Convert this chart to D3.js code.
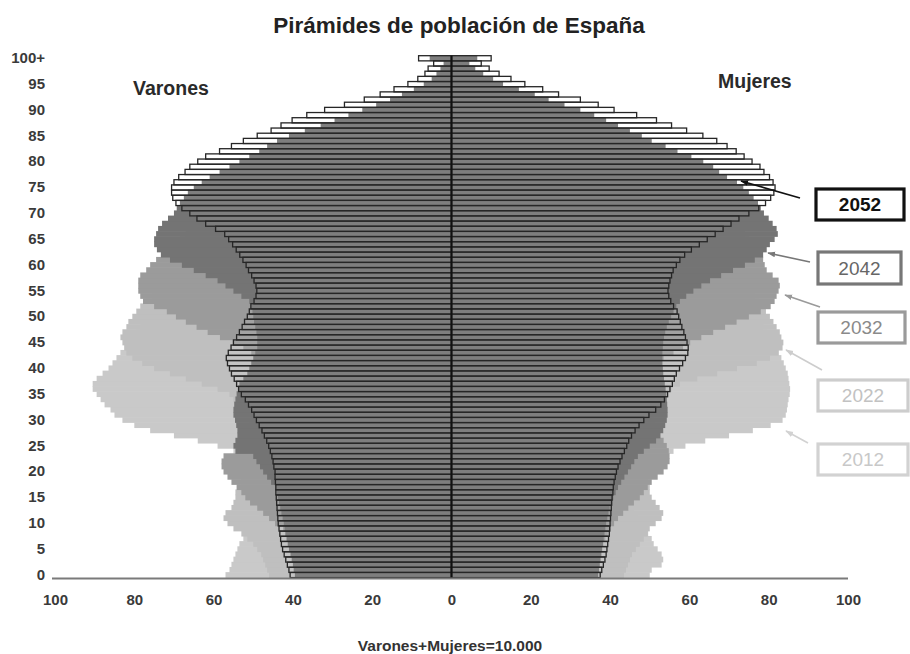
<!DOCTYPE html>
<html>
<head>
<meta charset="utf-8">
<script src="https://cdn.jsdelivr.net/npm/d3@7"></script>
<style>
  body { margin: 0; background: #fff; }
  svg { display: block; font-family: "Liberation Sans", Arial, Helvetica, sans-serif; }
</style>
</head>
<body>
<svg id="chart" width="910" height="654"></svg>
<script>
// Single-year ages, 0 … 100+ (the last class is open)
const ages = d3.range(0, 101);
const ageTicks = [0, 5, 10, 15, 20, 25, 30, 35, 40, 45, 50, 55, 60, 65, 70, 75, 80, 85, 90, 95, 100];
const ageTickLabels = ["0", "5", "10", "15", "20", "25", "30", "35", "40", "45", "50", "55", "60", "65", "70", "75", "80", "85", "90", "95", "100+"];
const xTicksLeft = [100, 80, 60, 40, 20, 0];
const xTicksRight = [20, 40, 60, 80, 100];
const years = ["2012", "2022", "2032", "2042", "2052"];

// Population per 10,000 inhabitants (Varones + Mujeres = 10.000), by age
const varones2012 = [
  57, 56, 55.5, 55, 54.5, 54, 53.5, 52.5, 51.5, 50.5,
  49.5, 48.5, 47.5, 47, 46.5, 46.5, 47, 47.5, 48.5, 49.5,
  50.5, 52, 53.5, 54.5, 55, 59, 64, 70, 76, 80,
  83, 85, 86, 87.5, 88.5, 89.5, 90.5, 90.5, 89.5, 88,
  86.5, 85.5, 84.5, 83.5, 82.5, 81.5, 80.5, 79.5, 78.5, 77,
  75.5, 74, 72, 70, 68, 66, 64.5, 63, 61.5, 60.5,
  59.5, 58.5, 57.5, 56.5, 55, 53, 51, 48.5, 45.5, 42,
  38.5, 39, 39.5, 38, 36.5, 35, 34, 32.5, 30.5, 28,
  25.5, 23, 21, 19, 17, 14.5, 12.5, 10.5, 8.5, 7,
  5.5, 4.2, 3.2, 2.4, 1.7, 1.2, 0.9, 0.6, 0.4, 0.3,
  0.4
];
const varones2022 = [
  46, 46.5, 47, 47.5, 48, 49, 50, 51.5, 53, 55,
  56.5, 57.5, 57, 55.5, 55, 54.5, 54.5, 54, 53, 52,
  51, 50, 49.5, 49, 49, 49.5, 50, 50.5, 51.5, 52,
  53, 53.5, 54, 54.5, 55, 56, 59, 63, 67, 71,
  75, 78, 80.5, 82, 82.5, 83, 83.5, 83, 82, 81.5,
  80.5, 79.5, 78.5, 77, 75.5, 74, 72.5, 71, 69.5, 68,
  66.5, 65, 63.5, 62, 60.5, 59, 57.5, 56, 54.5, 53,
  52, 51, 49.5, 48, 46, 43.5, 40.5, 37, 33, 31,
  30, 28.5, 27, 25, 23, 21, 18.5, 16, 13.5, 11.5,
  9.5, 7.5, 6, 4.5, 3.4, 2.5, 1.8, 1.3, 0.9, 0.6,
  1
];
const varones2032 = [
  39, 39.2, 39.5, 39.8, 40, 40.4, 40.8, 41.3, 41.8, 42.5,
  44.5, 46, 47.5, 49, 50.8, 52, 53, 54.2, 55.5, 56.5,
  57.5, 58, 58, 57.5, 54, 53, 52.5, 52, 51.5, 51,
  50.5, 50, 49.5, 49, 48.5, 48.5, 48.5, 48.5, 48.5, 48.5,
  48.5, 49, 49.5, 50.5, 52.5, 55, 58.4, 61.5, 64.3, 67,
  69.5, 71.8, 75, 77.8, 78.5, 79, 79, 79, 78.5, 77,
  76, 74.5, 73, 71.5, 70, 68.5, 67, 65.5, 64, 62,
  60, 58, 56, 54, 52, 50, 48, 46, 44, 42,
  40, 38.5, 37, 35, 33, 31, 28.5, 26, 23.5, 21,
  18.5, 16, 13.5, 11, 8.5, 6.5, 4.5, 3.3, 2.4, 1.7,
  3
];
const varones2042 = [
  39.5, 39.8, 40, 40.3, 40.6, 41, 41.3, 41.6, 41.9, 42.1,
  42.3, 42.6, 42.9, 43.2, 43.5, 43.8, 44.1, 44.5, 45.5, 46.5,
  47.5, 48.3, 49.2, 50, 54.5, 55, 54.5, 54, 54, 54.3,
  54.6, 55, 55, 54.8, 54.5, 54.2, 53.8, 53.5, 52.5, 51.5,
  51, 50.5, 50, 49.5, 49, 49, 49, 49.2, 49.5, 49.8,
  50, 50.2, 50.5, 51, 53, 55, 57, 59, 62, 65,
  68, 71, 73.3, 74.3, 75, 75, 74.5, 74, 73, 71.5,
  70, 69.3, 68.5, 67.5, 66.5, 65, 63, 61, 58.5, 56,
  53.5, 51, 48.5, 46.5, 44, 41, 37, 33, 29.5, 26,
  22.5, 19, 15.5, 12.5, 9.5, 7, 5, 3.8, 2.8, 2,
  5.5
];
const varones2052 = [
  40.7, 41, 41.4, 41.8, 42.2, 42.6, 42.9, 43.1, 43.3, 43.5,
  43.7, 43.8, 43.9, 44, 44.1, 44.2, 44.3, 44.3, 44.4, 44.5,
  44.5, 44.8, 45, 45.3, 45.7, 46.1, 46.6, 47.2, 47.8, 48.5,
  49.2, 49.8, 50.4, 51.2, 52, 53, 53.7, 54.2, 54.8, 55.5,
  56, 56.5, 56.8, 56.3, 55.6, 55, 54.2, 53.5, 52.8, 52.2,
  51.5, 51, 50.6, 49.8, 49.3, 49.1, 49.3, 49.8, 50.4, 51.2,
  51.8, 52.6, 53.4, 54.3, 55.2, 56.2, 57.2, 59.5, 62, 64.2,
  66, 68, 69.5, 70.3, 70.6, 70.6, 70, 68.8, 67.2, 66,
  64, 62, 58.5, 55.5, 52.5, 49, 45.5, 43, 40.2, 36.5,
  32, 27, 22, 18, 14.5, 11, 8.5, 6.7, 5.9, 4.5,
  8.3
];
const mujeres2012 = [
  50, 50.5, 53, 53.4, 53, 52, 51, 50.5, 49.6, 49,
  48, 47, 46, 45, 44.5, 44.5, 45, 45.5, 46.5, 47.5,
  48.5, 50, 51.5, 53.5, 56, 59, 64, 70, 76, 80.5,
  83.5, 84.3, 84.6, 84.8, 85, 85.3, 85.4, 85.2, 85, 84.8,
  84.3, 83.8, 83.2, 82.5, 81.8, 81, 80.2, 79.5, 78.7, 77.7,
  76.5, 75, 73.5, 72, 70.5, 69, 67.7, 66.5, 65.3, 64.2,
  63.2, 62.2, 61.3, 60.3, 59, 57.5, 55.5, 53.5, 51, 48,
  45, 46, 47, 46, 45, 44, 43, 42, 40.5, 38.5,
  36.5, 34, 32, 29.5, 27, 24, 21.5, 19, 16.5, 14,
  12, 9.5, 7.5, 6, 4.5, 3.4, 2.6, 1.9, 1.4, 1,
  1.5
];
const mujeres2022 = [
  43.5, 44, 44.5, 45, 45.5, 46.5, 47.5, 48.5, 49.5, 50,
  51.5, 53, 53.4, 52.5, 51.5, 50.5, 50, 50, 49.5, 49,
  48.5, 48, 47.5, 47.5, 47.5, 48, 48.5, 49, 49.5, 50,
  50.5, 51, 51.5, 52, 53, 54, 55.5, 57.6, 62, 67,
  72, 77, 80.3, 82.5, 83.5, 83.7, 83.2, 82.8, 82, 81.2,
  80.3, 79.3, 78.5, 77.5, 76.5, 75.5, 74.5, 73.5, 72.5, 71.5,
  70.5, 69, 67.5, 66, 64.5, 63, 62, 61, 60, 59,
  58, 57, 55.5, 54, 52.5, 50.5, 48, 45, 41.5, 39.5,
  38.5, 37.5, 36, 34.5, 32.5, 30.5, 28, 25.5, 23, 20.5,
  18, 15.5, 13, 10.5, 8.5, 6.5, 5, 3.8, 2.8, 2,
  3.5
];
const mujeres2032 = [
  36, 36.3, 36.6, 37, 37.4, 37.8, 38.3, 38.8, 39.4, 40.2,
  41, 42, 43.3, 44.6, 46, 47.5, 48.5, 49.5, 50.5, 52,
  53.5, 54.5, 55, 55, 54.8, 54.3, 53.5, 52.5, 52, 51.5,
  51, 50.7, 50.4, 50.2, 50, 50, 50, 50, 50.2, 50.5,
  51, 52, 53.5, 56, 58.4, 60.2, 63, 66, 69, 71.9,
  75, 78, 80.5, 81.5, 82, 82.5, 82.8, 82.5, 81, 79.5,
  79, 78.6, 78, 77, 76, 75, 74, 73, 72, 71,
  69.5, 68, 66.5, 65, 63.5, 62, 60.5, 59, 57.5, 56,
  54.5, 53, 51.5, 49.5, 47.5, 45.5, 43, 40.5, 36, 33,
  30, 26.5, 23, 19.5, 16, 12.5, 9.5, 7, 5, 3.5,
  5
];
const mujeres2042 = [
  37, 37.2, 37.4, 37.6, 37.8, 38, 38.2, 38.4, 38.6, 38.8,
  39, 39.3, 39.6, 39.9, 40.3, 40.8, 41.4, 42, 42.8, 43.6,
  44.5, 45.3, 46.1, 47, 48.5, 50, 51.6, 52.7, 53.4, 53.9,
  54.3, 54.5, 54.5, 54.4, 54.3, 54.2, 54, 53.8, 53.6, 53.4,
  53.3, 53.2, 53.2, 53.2, 53.3, 53.4, 53.6, 53.9, 54.3, 54.8,
  55.4, 56, 56.7, 57.6, 59.2, 61, 63, 65.2, 68, 71,
  74, 76.5, 78.6, 79.5, 80.3, 81.5, 82.3, 82, 81, 80,
  78.8, 78, 77.3, 76.2, 75, 73.6, 72, 69.5, 67.5, 66,
  63.5, 60.5, 57, 54, 50.5, 48, 45, 42, 39, 36,
  32.5, 28.5, 24.5, 21, 17, 13, 10.5, 8, 6, 4.5,
  6.5
];
const mujeres2052 = [
  37.5, 37.9, 38.3, 38.7, 39, 39.2, 39.4, 39.6, 39.8, 39.9,
  40, 40.1, 40.2, 40.3, 40.4, 40.5, 40.7, 40.8, 41, 41.3,
  41.6, 42, 42.5, 43, 43.6, 44.2, 44.7, 45.4, 46.3, 47.3,
  48.5, 49.8, 51.5, 52.8, 53.7, 54.5, 55.1, 55.7, 56.2, 56.7,
  57.5, 58.3, 59, 59.6, 59.7, 59.4, 59, 58.6, 58.1, 57.7,
  57.3, 56.9, 56, 55.3, 54.8, 54.6, 54.8, 55.1, 55.5, 55.9,
  56.7, 57.6, 58.8, 60.5, 62.5, 64.5, 66.5, 68.5, 70.5, 72.5,
  75, 77.5, 79.2, 80.5, 81.3, 81.6, 81.1, 80.2, 78.8, 77.8,
  75.8, 73.8, 71.8, 69.5, 66.9, 63.4, 59.3, 55.5, 51.7, 46.7,
  41, 37, 32.5, 27, 23, 18.5, 15, 12, 9.5, 7.5,
  10
];

const varones = [varones2012, varones2022, varones2032, varones2042, varones2052];
const mujeres = [mujeres2012, mujeres2022, mujeres2032, mujeres2042, mujeres2052];

// Greys for the four earlier projections, back to front
const layerFill = ["#c9c9c9", "#bfbfbf", "#9b9b9b", "#747474"];

const svg = d3.select("#chart");

const y = d3.scaleBand().domain(ages).range([577.6, 55.7]).paddingInner(0).paddingOuter(0);
const xL = d3.scaleLinear().domain([0, 100]).range([451.5, 55]);
const xR = d3.scaleLinear().domain([0, 100]).range([451.5, 848]);
const bw = y.bandwidth();

const plot = svg.append("g").attr("class", "pyramids");

// Solid pyramids 2012 → 2042, each in front of the previous one
years.slice(0, 4).forEach((yr, i) => {
  const g = plot.append("g").attr("class", "year-" + yr).attr("fill", layerFill[i]);
  g.selectAll("rect.m").data(ages).join("rect")
    .attr("class", "m")
    .attr("x", a => xL(varones[i][a]))
    .attr("width", a => xL(0) - xL(varones[i][a]))
    .attr("y", a => y(a) - 0.3)
    .attr("height", bw + 0.6);
  g.selectAll("rect.f").data(ages).join("rect")
    .attr("class", "f")
    .attr("x", xR(0))
    .attr("width", a => xR(mujeres[i][a]) - xR(0))
    .attr("y", a => y(a) - 0.3)
    .attr("height", bw + 0.6);
});

// 2052: outlined bars on top
const g52 = plot.append("g").attr("class", "year-2052")
  .attr("fill", "#ffffff").attr("fill-opacity", 0.08)
  .attr("stroke", "#262626").attr("stroke-width", 1.3);
g52.selectAll("rect.m").data(ages).join("rect")
  .attr("class", "m")
  .attr("x", a => xL(varones2052[a]))
  .attr("width", a => xL(0) - xL(varones2052[a]))
  .attr("y", a => y(a))
  .attr("height", bw);
g52.selectAll("rect.f").data(ages).join("rect")
  .attr("class", "f")
  .attr("x", xR(0))
  .attr("width", a => xR(mujeres2052[a]) - xR(0))
  .attr("y", a => y(a))
  .attr("height", bw);

// Central axis
svg.append("line")
  .attr("x1", xL(0)).attr("x2", xL(0))
  .attr("y1", y(100)).attr("y2", 578)
  .attr("stroke", "#111").attr("stroke-width", 2);

// Baseline
svg.append("line")
  .attr("x1", 52).attr("x2", xR(100))
  .attr("y1", 578.5).attr("y2", 578.5)
  .attr("stroke", "#7a7a7a").attr("stroke-width", 2);

// X axis labels (both halves count outward from 0)
const axisStyle = g => {
  g.select(".domain").remove();
  g.selectAll("text")
    .attr("font-size", 15)
    .attr("font-weight", "bold")
    .attr("fill", "#3a3a3a")
    .attr("font-family", "Liberation Sans, Arial, sans-serif");
};
svg.append("g").attr("transform", "translate(0,578)")
  .call(d3.axisBottom(xL).tickValues(xTicksLeft).tickSize(0).tickPadding(16).tickFormat(d3.format("d")))
  .call(axisStyle);
svg.append("g").attr("transform", "translate(0,578)")
  .call(d3.axisBottom(xR).tickValues(xTicksRight).tickSize(0).tickPadding(16).tickFormat(d3.format("d")))
  .call(axisStyle);

// Age labels
svg.append("g").attr("transform", "translate(48,0)")
  .call(d3.axisLeft(y).tickValues(ageTicks).tickSize(0).tickPadding(3)
    .tickFormat(d => ageTickLabels[ageTicks.indexOf(d)]))
  .call(axisStyle);

// Titles and captions
svg.append("text")
  .attr("x", 459).attr("y", 33)
  .attr("text-anchor", "middle")
  .attr("font-size", 22.5).attr("font-weight", "bold").attr("fill", "#222")
  .text("Pirámides de población de España");
svg.append("text")
  .attr("x", 133).attr("y", 95)
  .attr("font-size", 19.5).attr("font-weight", "bold").attr("fill", "#2a2a2a")
  .text("Varones");
svg.append("text")
  .attr("x", 718).attr("y", 88)
  .attr("font-size", 19.5).attr("font-weight", "bold").attr("fill", "#2a2a2a")
  .text("Mujeres");
svg.append("text")
  .attr("x", 450).attr("y", 651)
  .attr("text-anchor", "middle")
  .attr("font-size", 15.5).attr("font-weight", "bold").attr("fill", "#333")
  .text("Varones+Mujeres=10.000");

// Year labels with leader arrows
const legend = [
  { year: "2052", box: [816, 189, 88, 31], color: "#111", text: "#111", weight: "bold", from: [800, 198], to: [741, 181] },
  { year: "2042", box: [818, 252, 83, 32], color: "#777", text: "#666", weight: "normal", from: [810, 262], to: [768, 253] },
  { year: "2032", box: [818, 312, 87, 31], color: "#9a9a9a", text: "#8a8a8a", weight: "normal", from: [820, 307], to: [785, 295] },
  { year: "2022", box: [818, 380, 90, 31], color: "#cdcdcd", text: "#c2c2c2", weight: "normal", from: [822, 370], to: [786, 350] },
  { year: "2012", box: [818, 444, 90, 31], color: "#d2d2d2", text: "#c8c8c8", weight: "normal", from: [808, 443], to: [786, 431] }
];

const defs = svg.append("defs");
legend.forEach((d, i) => {
  defs.append("marker")
    .attr("id", "arrow" + i)
    .attr("viewBox", "0 0 10 10")
    .attr("refX", 9).attr("refY", 5)
    .attr("markerWidth", 5).attr("markerHeight", 5)
    .attr("orient", "auto")
    .append("path").attr("d", "M0,1.5 L10,5 L0,8.5 Z").attr("fill", d.color);
});

const lg = svg.append("g").attr("class", "legend");
legend.forEach((d, i) => {
  lg.append("line")
    .attr("x1", d.from[0]).attr("y1", d.from[1])
    .attr("x2", d.to[0]).attr("y2", d.to[1])
    .attr("stroke", d.color).attr("stroke-width", 1.6)
    .attr("marker-end", "url(#arrow" + i + ")");
  lg.append("rect")
    .attr("x", d.box[0]).attr("y", d.box[1])
    .attr("width", d.box[2]).attr("height", d.box[3])
    .attr("fill", "#fff").attr("stroke", d.color).attr("stroke-width", 3.2);
  lg.append("text")
    .attr("x", d.box[0] + d.box[2] / 2).attr("y", d.box[1] + d.box[3] / 2 + 6.5)
    .attr("text-anchor", "middle")
    .attr("font-size", 19).attr("font-weight", d.weight).attr("fill", d.text)
    .text(d.year);
});
</script>
</body>
</html>
